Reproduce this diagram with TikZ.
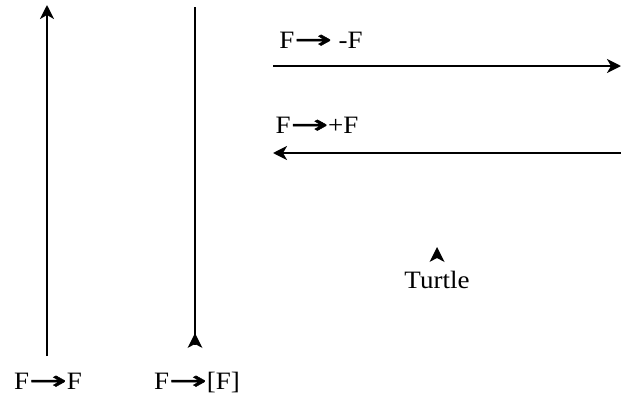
\documentclass[tikz,border=0pt]{standalone}
\usepackage{fontspec}
\setmainfont[FakeStretch=1.08]{Liberation Serif}
\newfontfamily\arrfont[FakeStretch=1.8,FakeBold=2]{DejaVu Sans}
\newcommand{\rarr}{{\arrfont →}}
\usetikzlibrary{arrows.meta}
\begin{document}
\begin{tikzpicture}[x=1pt,y=-1pt,
  vec/.style={line width=2.2pt,-{Stealth[length=14pt,width=14pt,inset=4pt]}},
  lbl/.style={font=\fontsize{25}{28}\selectfont,inner sep=0pt,anchor=base}]
\useasboundingbox (0,0) rectangle (621,399);
\coordinate (a1s) at (47,356);
\coordinate (a1e) at (47,5);
\draw[vec] (a1s) -- (a1e);
\coordinate (a2s) at (195,7);
\coordinate (a2e) at (195,345);
\draw[line width=2.2pt] (a2s) -- (a2e);
\coordinate (m2) at (195,333);
\fill (m2) -- ++(7.5,15) -- ++(-7.5,-4) -- ++(-7.5,4) -- cycle;
\coordinate (a3s) at (273,66);
\coordinate (a3e) at (621,66);
\draw[vec] (a3s) -- (a3e);
\coordinate (a4s) at (621,153);
\coordinate (a4e) at (273,153);
\draw[vec] (a4s) -- (a4e);
\coordinate (m5) at (437,247);
\fill (m5) -- ++(7.5,15) -- ++(-7.5,-4) -- ++(-7.5,4) -- cycle;
\node[lbl] (l1) at (48,389) {F\rarr F};
\node[lbl] (l2) at (197,389) {F\rarr[F]};
\node[lbl] (l3) at (321,48) {F\rarr\ -F};
\node[lbl] (l4) at (317,133) {F\rarr+F};
\node[lbl] (t) at (437,288) {Turtle};
\end{tikzpicture}
\end{document}
